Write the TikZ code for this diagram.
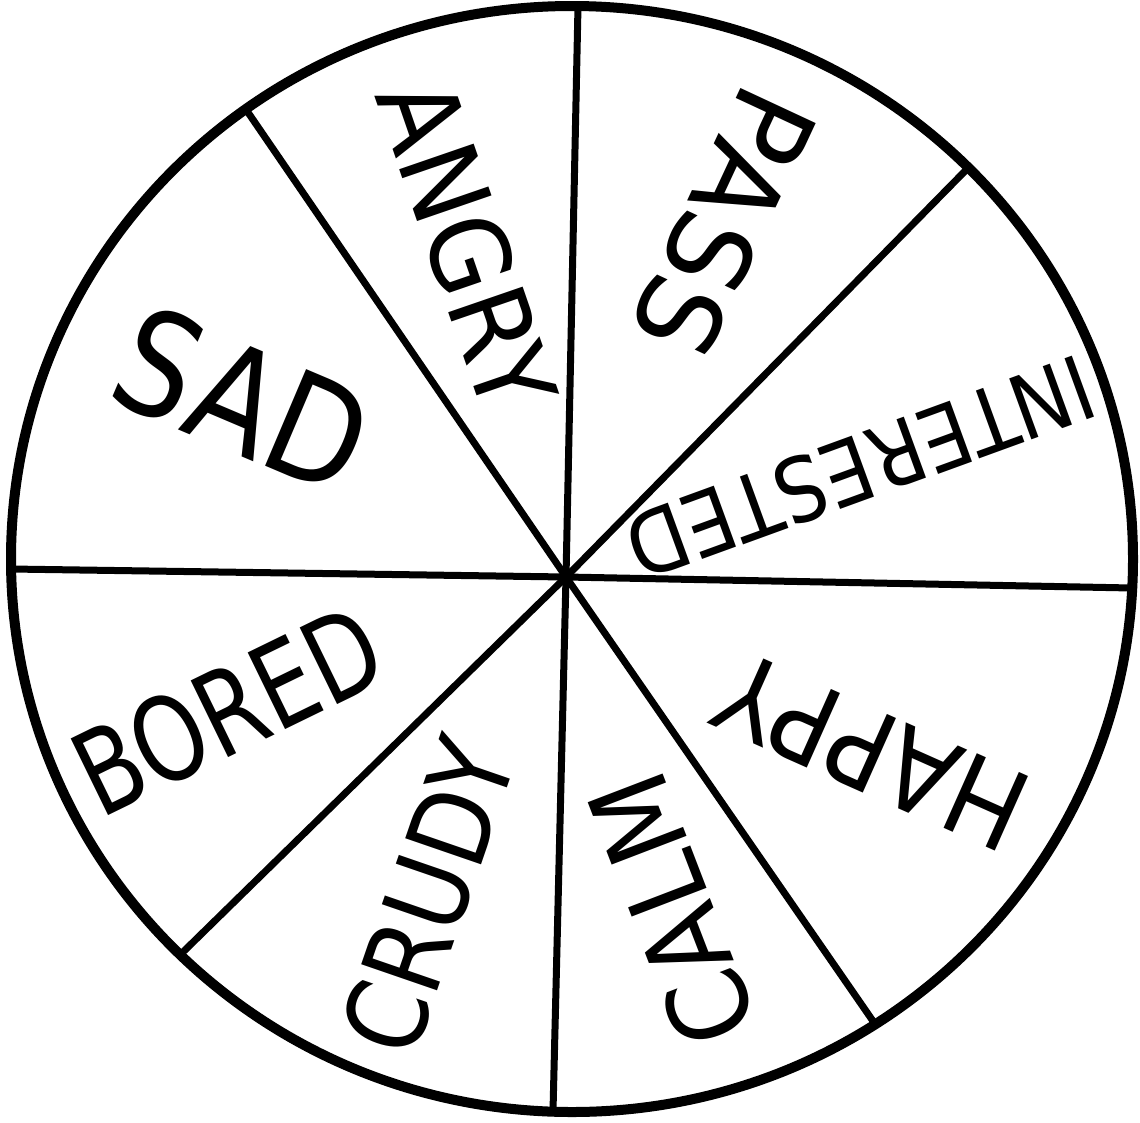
\documentclass[tikz,border=0pt]{standalone}
\usepackage{fontspec}
\setmainfont{DejaVu Sans}
\usepackage{graphicx}
\newcommand{\wheelword}[3]{\scalebox{#1}[1]{\fontsize{#2}{#2}\selectfont #3}}
\begin{document}
\begin{tikzpicture}[x=1pt,y=-1pt,
  rim/.style={line width=10pt},
  spoke/.style={line width=7pt},
  word/.style={inner sep=0pt,outer sep=0pt,anchor=center,text=black}]
\useasboundingbox[fill=white] (0,0) rectangle (1140,1122);
% rim
\draw[rim] (572,559) ellipse [x radius=561pt, y radius=553pt];
% hub and spoke ends
\coordinate (hub) at (566,577);
\coordinate (eT) at (578,6);
\coordinate (eUL) at (245,108);
\coordinate (eL) at (11,569);
\coordinate (eLL) at (183,952);
\coordinate (eB) at (553,1111);
\coordinate (eLR) at (875,1024);
\coordinate (eR) at (1132,588);
\coordinate (eUR) at (968,168);
\foreach \e in {eT,eUL,eL,eLL,eB,eLR,eR,eUR}
  \draw[spoke] (hub) -- (\e);
% labels
\node[word,rotate=-71]  (angry) at (467,245) {\wheelword{0.92}{108}{ANGRY}};
\node[word,rotate=-115] (pass)  at (724,222) {\wheelword{0.98}{114}{PASS}};
\node[word,rotate=-160] (inter) at (860,468) {\wheelword{0.88}{89}{INTERESTED}};
\node[word,rotate=156]  (happy) at (872,752) {\wheelword{0.9}{112}{HAPPY}};
\node[word,rotate=111]  (calm)  at (672,910) {\wheelword{0.91}{110}{CALM}};
\node[word,rotate=71]   (crudy) at (428,896) {\wheelword{0.85}{110}{CRUDY}};
\node[word,rotate=26]   (bored) at (228,710) {\wheelword{0.78}{117}{BORED}};
\node[word,rotate=-23]  (sad)   at (243,400) {\wheelword{0.85}{144}{SAD}};
\end{tikzpicture}
\end{document}
